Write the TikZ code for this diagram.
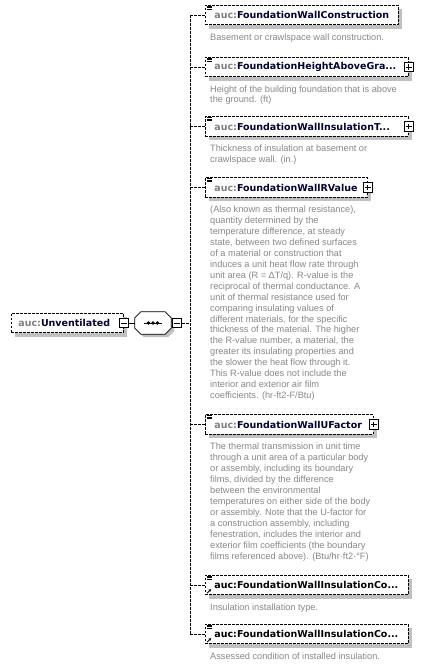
\documentclass[tikz,border=0pt]{standalone}
\usepackage{fontspec}
\setmainfont{DejaVu Sans}
\newfontfamily\descfont{Liberation Sans}
\usepackage{tikz}
\usetikzlibrary{positioning,shadows,arrows.meta}

\definecolor{pfxgray}{RGB}{128,128,128}
\definecolor{namenavy}{RGB}{0,0,48}
\definecolor{descgray}{RGB}{135,135,135}
\definecolor{shadowgray}{RGB}{192,192,192}

\newcommand{\xname}[1]{{\color{pfxgray}auc:}{\color{namenavy}#1}}
\newcommand{\refel}[1]{auc:#1}

\begin{document}
\begin{tikzpicture}[
    x=1pt, y=-1pt,
    dashline/.style ={dash pattern=on 2.5pt off 1.5pt, line width=0.8pt},
    elembox/.style  ={draw, dashline, fill=white, minimum height=19.5pt, inner xsep=9pt, inner ysep=0pt,
                      align=left, anchor=west, font=\fontsize{9.5}{11}\selectfont\bfseries,
                      drop shadow={shadow xshift=4pt, shadow yshift=-4pt, fill=shadowgray, opacity=1}},
    seqbox/.style   ={minimum width=36pt, minimum height=22pt, inner sep=0pt},
    octline/.style  ={draw, line width=0.8pt, fill=white,
                      preaction={fill=shadowgray, transform canvas={shift={(3pt,-3pt)}}}},
    pmbox/.style    ={draw, line width=0.8pt, fill=white, rectangle, minimum size=9.5pt, inner sep=0pt},
    minusbox/.style ={pmbox, path picture={
                        \draw[line width=0.8pt] ([xshift=2pt]path picture bounding box.west) -- ([xshift=-2pt]path picture bounding box.east);}},
    plusbox/.style  ={pmbox, path picture={
                        \draw[line width=0.8pt] ([xshift=2pt]path picture bounding box.west) -- ([xshift=-2pt]path picture bounding box.east);
                        \draw[line width=0.8pt] ([yshift=-2pt]path picture bounding box.north) -- ([yshift=2pt]path picture bounding box.south);}},
    desc/.style     ={inner sep=0pt, align=left, text=descgray, font=\descfont\fontsize{9.2}{10.95}\selectfont},
  ]
  \useasboundingbox (0,0) rectangle (421,667);

  % ---- root element and its sequence ----
  \node[elembox, text width=98pt, inner xsep=7pt] (root) at (11,323) {\xname{Unventilated}};
  \node[minusbox] (rminus) at (root.east) {};
  \node[seqbox] (seq) at (153,323) {};
  \draw[octline] ([xshift=6pt]seq.north west) -- ([xshift=-6pt]seq.north east) -- ([yshift=-6pt]seq.north east)
    -- ([yshift=6pt]seq.south east) -- ([xshift=-6pt]seq.south east) -- ([xshift=6pt]seq.south west)
    -- ([yshift=6pt]seq.south west) -- ([yshift=-6pt]seq.north west) -- cycle;
  \draw[line width=0.8pt] ([xshift=-9pt]seq.center) -- ([xshift=9pt]seq.center);
  \foreach \d in {-4.5,0,4.5} \fill ([xshift=\d pt]seq.center) circle (1.8pt);
  \node[minusbox] (sminus) at (177,323) {};
  \coordinate (trunk) at (190,323);
  \draw[line width=0.8pt] (rminus.east) -- (seq.west);

  % ---- child elements ----
  \node[elembox, text width=175pt] (c1) at (205,15)    {\xname{FoundationWallConstruction}};
  \node[elembox, text width=185pt] (c2) at (205,67)    {\xname{FoundationHeightAboveGra...}};
  \node[elembox, text width=185pt] (c3) at (205,126.5) {\xname{FoundationWallInsulationT...}};
  \node[elembox, text width=144pt] (c4) at (205,187.5) {\xname{FoundationWallRValue}};
  \node[elembox, text width=150pt] (c5) at (205,424.5) {\xname{FoundationWallUFactor}};
  \node[elembox, text width=185pt] (c6) at (205,585)   {\refel{FoundationWallInsulationCo...}};
  \node[elembox, text width=185pt] (c7) at (205,634)   {\refel{FoundationWallInsulationCo...}};

  \foreach \i in {2,3,4,5} \node[plusbox] (p\i) at (c\i.east) {};

  % ---- doc icons, reference arrows ----
  \foreach \i in {1,...,7} {
    \foreach \k in {0,1,2} \draw[line width=0.6pt] ([shift={(2,1.4+1.4*\k)}]c\i.north west) -- ++(4.5,0);
  }
  \foreach \i in {6,7} \draw[line width=0.9pt, -{Stealth[length=2.5pt,width=2.8pt]}] ([shift={(2,-2)}]c\i.south west) -- ++(4,-4);

  % ---- connectors ----
  \draw[dashline] (sminus.east) -- (trunk |- sminus.east);
  \draw[dashline] (trunk |- c1.west) -- (trunk |- c7.west);
  \foreach \i in {1,...,7} \draw[dashline] (trunk |- c\i.west) -- (c\i.west);

  % ---- annotations ----
  \node[desc, below right=8pt and 5pt of c1.south west] (d1) {Basement or crawlspace wall construction.};
  \node[desc, below right=8pt and 5pt of c2.south west] (d2) {Height of the building foundation that is above\\the ground. (ft)};
  \node[desc, below right=8pt and 5pt of c3.south west] (d3) {Thickness of insulation at basement or\\crawlspace wall. (in.)};
  \node[desc, below right=8pt and 5pt of c4.south west] (d4) {(Also known as thermal resistance),\\quantity determined by the\\temperature difference, at steady\\state, between two defined surfaces\\of a material or construction that\\induces a unit heat flow rate through\\unit area (R = ΔT/q). R-value is the\\reciprocal of thermal conductance. A\\unit of thermal resistance used for\\comparing insulating values of\\different materials, for the specific\\thickness of the material. The higher\\the R-value number, a material, the\\greater its insulating properties and\\the slower the heat flow through it.\\This R-value does not include the\\interior and exterior air film\\coefficients. (hr-ft2-F/Btu)};
  \node[desc, below right=8pt and 5pt of c5.south west] (d5) {The thermal transmission in unit time\\through a unit area of a particular body\\or assembly, including its boundary\\films, divided by the difference\\between the environmental\\temperatures on either side of the body\\or assembly. Note that the U-factor for\\a construction assembly, including\\fenestration, includes the interior and\\exterior film coefficients (the boundary\\films referenced above). (Btu/hr·ft2·°F)};
  \node[desc, below right=8pt and 5pt of c6.south west] (d6) {Insulation installation type.};
  \node[desc, below right=8pt and 5pt of c7.south west] (d7) {Assessed condition of installed insulation.};
\end{tikzpicture}
\end{document}
